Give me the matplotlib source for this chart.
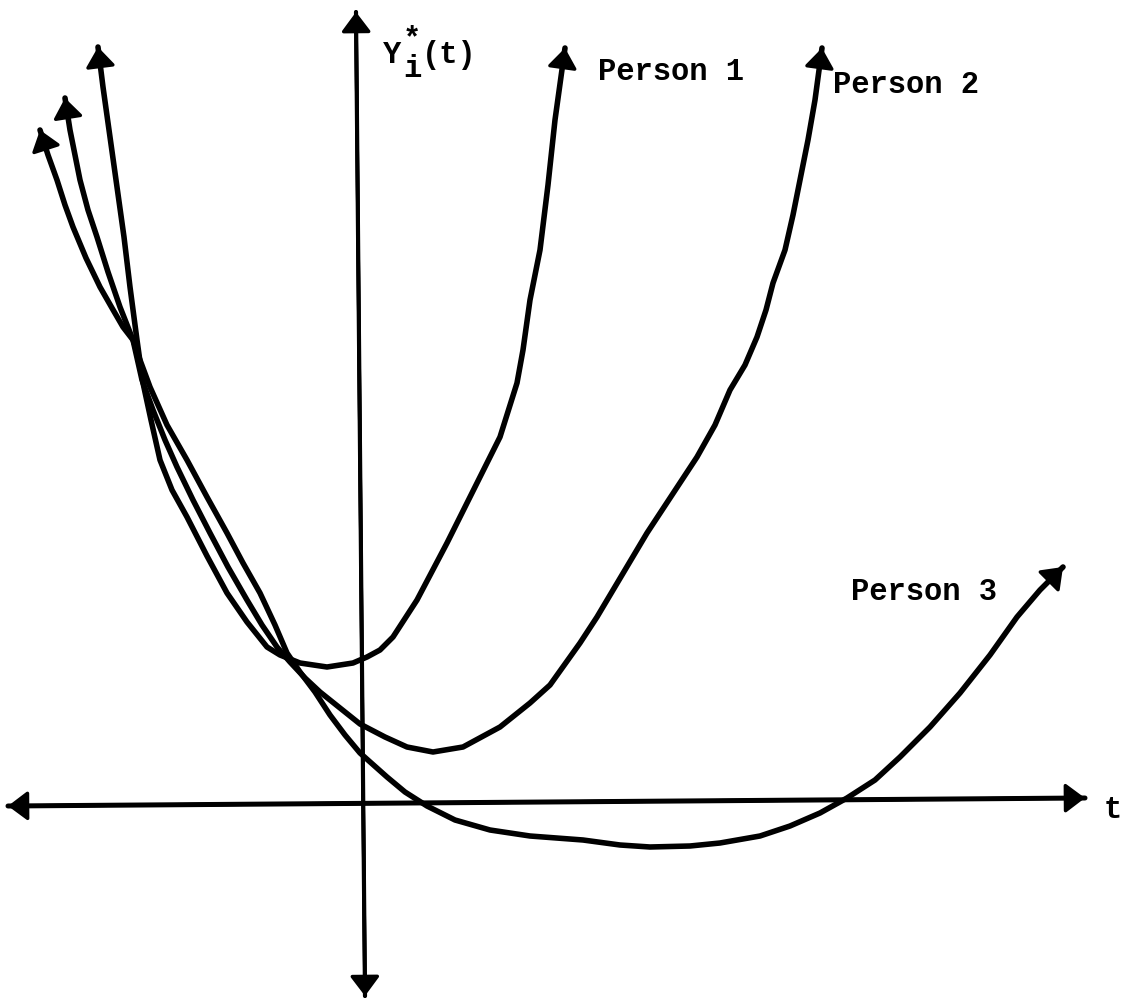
import matplotlib.pyplot as plt

# hand-drawn sketch of three response curves
# (t, Y) with the origin where the two axes cross

person1_t = [-264, -259, -252, -245, -238, -232, -225, -219, -211, -202, -190,
             -175, -155, -135, -115, -95, -82, -62, -35, -9, 5, 18, 31, 55, 85,
             118, 138, 155, 161, 168, 178, 186, 193, 203]
person1_y = [756, 716, 666, 616, 566, 516, 463, 420, 383, 343, 313,
             286, 247, 210, 181, 156, 148, 140, 136, 140, 146, 153, 166, 203,
             260, 326, 366, 420, 453, 503, 553, 618, 683, 755]

person2_t = [-297, -292, -287, -282, -274, -265, -254, -242, -229, -220, -209,
             -197, -185, -169, -152, -134, -115, -100, -85, -72, -57, -42, -22,
             -2, 23, 45, 71, 101, 138, 168, 188, 218, 235, 260, 285, 310, 335,
             353, 368, 383, 395, 404, 411, 423, 431, 438, 446, 453, 460]
person2_y = [705, 673, 648, 623, 593, 566, 531, 496, 463, 423, 393,
             363, 336, 303, 270, 236, 203, 178, 156, 141, 125, 111, 95,
             79, 66, 56, 51, 56, 76, 100, 118, 160, 186, 228, 270, 308, 346,
             378, 413, 438, 466, 493, 520, 553, 588, 623, 663, 703, 755]

person3_t = [-322, -314, -305, -297, -289, -276, -262, -250, -239, -229, -222,
             -212, -195, -175, -155, -135, -119, -102, -87, -75, -62, -47, -32,
             -17, -2, 25, 43, 65, 93, 128, 168, 221, 258, 288, 328, 358, 398,
             428, 458, 485, 513, 538, 568, 598, 628, 655, 678, 701]
person3_y = [673, 648, 623, 598, 576, 545, 516, 495, 476, 463, 443,
             416, 378, 343, 306, 270, 240, 210, 178, 150, 131, 111, 88,
             68, 50, 26, 11, -3, -17, -27, -33, -37, -42, -44, -43, -40, -33,
             -23, -10, 5, 23, 46, 76, 110, 148, 186, 213, 236]

t_axis_t = [-354, 723]
t_axis_y = [-3, 5]
y_axis_t = [-6, 3]
y_axis_y = [791, -193]

labels = ["Person 1", "Person 2", "Person 3"]

mono = "Liberation Mono"

fig = plt.figure(figsize=(11.32, 10.01), dpi=100)
ax = fig.add_axes([0, 0, 1, 1])
ax.set_xlim(-362, 770)
ax.set_ylim(-198, 803)
ax.axis("off")


def arrow_head(ax, t, y, lw):
    ax.annotate("", xy=(t[-1], y[-1]), xytext=(t[-2], y[-2]),
                arrowprops=dict(arrowstyle="-|>,head_length=0.6,head_width=0.45",
                                mutation_scale=20, lw=lw, color="black",
                                shrinkA=0, shrinkB=0, joinstyle="round"))


# axes, arrows on both ends
ax.plot(t_axis_t, t_axis_y, color="black", lw=3.6, solid_capstyle="round")
ax.plot(y_axis_t, y_axis_y, color="black", lw=3.0, solid_capstyle="round")
arrow_head(ax, t_axis_t, t_axis_y, 2.5)
arrow_head(ax, t_axis_t[::-1], t_axis_y[::-1], 2.5)
arrow_head(ax, y_axis_t, y_axis_y, 2.5)
arrow_head(ax, y_axis_t[::-1], y_axis_y[::-1], 2.5)

for t, y in [(person1_t, person1_y), (person2_t, person2_y),
             (person3_t, person3_y)]:
    ax.plot(t, y, color="black", lw=4.0, solid_capstyle="round",
            solid_joinstyle="round")
    arrow_head(ax, t, y, 2.5)
    arrow_head(ax, t[::-1], y[::-1], 2.5)

txt = dict(family=mono, fontsize=22, fontweight="bold", ha="left",
           va="baseline", color="black")
ax.text(236, 723, labels[0], **txt)
ax.text(471, 710, labels[1], **txt)
ax.text(489, 203, labels[2], **txt)
ax.text(742, -15, "t", **txt)

ax.text(21, 740, "Y", **txt)
ax.text(41, 726, "i", **txt)
ax.text(41, 756, "*", **txt)
ax.text(60, 740, "(t)", **txt)

fig.savefig("out.png", dpi=100)
